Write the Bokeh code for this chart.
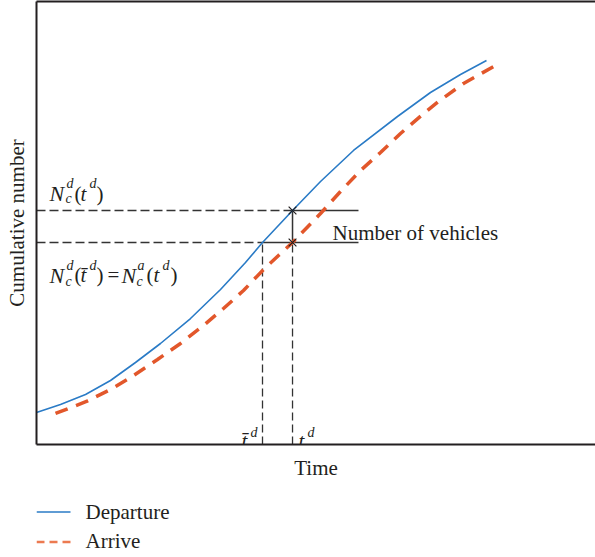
from bokeh.plotting import figure
from bokeh.layouts import column
from bokeh.models import Range1d, LinearAxis, FixedTicker
from bokeh.core.properties import value
from bokeh.embed import file_html
from bokeh.resources import INLINE

# ---------------- data ----------------
time_departure = [0.0, 4.29, 8.77, 13.24, 17.71, 22.18, 27.55, 32.92, 37.39, 40.43,
                  45.80, 50.81, 56.71, 64.58, 70.48, 75.85, 80.50]
cum_departure = [7.22, 9.03, 11.29, 14.45, 18.51, 22.80, 28.44, 34.99, 41.08, 45.60,
                 52.82, 59.37, 66.37, 74.04, 79.46, 83.52, 86.68]

time_arrive = [3.40, 8.94, 13.24, 16.82, 21.65, 25.76, 29.87, 33.45, 37.03, 40.61,
               43.29, 45.80, 50.81, 54.38, 57.96, 61.54, 65.12, 69.05, 71.91, 76.39, 82.11]
cum_arrive = [7.00, 9.71, 12.42, 15.12, 19.19, 22.80, 26.86, 30.70, 34.76, 39.50,
              42.66, 45.60, 52.14, 57.11, 61.85, 65.91, 70.20, 74.49, 77.43, 81.49, 85.55]

t_bar = 40.43          # \bar t^d
t_d = 45.80            # t^d
n_depart_td = 52.82    # N_c^d(t^d)
n_arrive_td = 45.60    # N_c^d(\bar t^d) = N_c^a(t^d)
measure_end = 57.6     # right end of the "number of vehicles" bracket

series_labels = ["Departure", "Arrive"]
x_label = "Time"
y_label = "Cumulative number"
bracket_label = "Number of vehicles"

# ---------------- styles ----------------
INK = "#231f20"
BLUE = "#2a7bc6"
ORANGE = "#e2572b"
ORANGE_LEG = "#ec7a50"
FONT = "Liberation Serif"

p = figure(width=595, height=490, x_range=Range1d(0, 100), y_range=Range1d(0, 100),
           output_backend="svg", toolbar_location=None,
           x_axis_label=x_label, y_axis_label=y_label,
           min_border_left=36, min_border_right=0, min_border_top=1, min_border_bottom=46)
p.outline_line_color = None
p.grid.visible = False
p.background_fill_color = "white"
p.border_fill_color = "white"

top_axis = LinearAxis()
p.add_layout(top_axis, "above")

for ax in p.axis:
    ax.ticker = FixedTicker(ticks=[])
    ax.axis_line_color = INK
    ax.axis_line_width = 2
    ax.major_tick_out = 0
    ax.minor_tick_out = 0
    ax.major_tick_line_color = None
    ax.minor_tick_line_color = None
    ax.major_label_standoff = 0
    ax.axis_label_text_font = FONT
    ax.axis_label_text_font_size = "21px"
    ax.axis_label_text_font_style = "normal"
    ax.axis_label_text_color = INK

p.below[0].axis_label_standoff = 11
p.left[0].axis_label_standoff = 8

# ---------------- guide lines ----------------
guide = dict(line_color="#333333", line_width=1.3)
p.line([0, t_d], [n_depart_td, n_depart_td], line_dash="9 4", **guide)
p.line([0, t_bar], [n_arrive_td, n_arrive_td], line_dash="9 4", **guide)
p.line([t_bar, t_bar], [0, n_arrive_td], line_dash="8 4", **guide)
p.line([t_d, t_d], [0, n_arrive_td], line_dash="8 4", **guide)
p.line([t_d, measure_end], [n_depart_td, n_depart_td], line_color="#333333", line_width=1.5)
p.line([t_bar, measure_end], [n_arrive_td, n_arrive_td], line_color="#333333", line_width=1.5)
p.line([t_d, t_d], [n_arrive_td, n_depart_td], line_color="#333333", line_width=1.5)

# ---------------- curves ----------------
p.line(time_departure, cum_departure, line_color=BLUE, line_width=1.6)
p.line(time_arrive, cum_arrive, line_color=ORANGE, line_width=3.5, line_dash="13 9")

p.scatter([t_d, t_d], [n_depart_td, n_arrive_td], marker="x", size=11,
          line_color=INK, line_width=1.2)

# ---------------- text ----------------
def math_text(fig, x, y, pieces, baseline="alphabetic"):
    for dx, dy, txt, size, style in pieces:
        fig.text(x=[x], y=[y], text=[txt], x_offset=dx, y_offset=dy,
                 text_font=value(FONT), text_font_size=f"{size}px",
                 text_font_style=style, text_color=INK,
                 text_baseline=baseline, text_align="left")

math_text(p, 0, n_depart_td, [
    (13, -17, "N", 22, "italic"), (30, -27, "d", 14, "italic"), (29, -12, "c", 14, "italic"),
    (38, -17, "(", 21, "normal"), (44, -17, "t", 21, "italic"), (53, -27, "d", 14, "italic"),
    (60, -17, ")", 21, "normal"),
])
math_text(p, 0, n_arrive_td, [
    (13, 33, "N", 22, "italic"), (30, 23, "d", 14, "italic"), (29, 39, "c", 14, "italic"),
    (38, 33, "(", 21, "normal"), (44, 33, "t\u0304", 21, "italic"), (53, 23, "d", 14, "italic"),
    (60, 33, ")", 21, "normal"), (71, 33, "=", 21, "normal"),
    (85, 33, "N", 22, "italic"), (101, 23, "a", 14, "italic"), (100, 39, "c", 14, "italic"),
    (110, 33, "(", 21, "normal"), (117, 33, "t", 21, "italic"), (126, 23, "d", 14, "italic"),
    (134, 33, ")", 21, "normal"),
])
math_text(p, t_bar, 0, [(-21, -4, "t\u0304", 21, "italic"), (-12, -12, "d", 14, "italic")])
math_text(p, t_d, 0, [(6, -4, "t", 21, "italic"), (15, -12, "d", 14, "italic")])
math_text(p, t_d, n_arrive_td, [(40, -9, bracket_label, 21, "normal")])

# ---------------- legend (separate strip below the chart, pixel space) ----------------
# the column aligns this strip's frame with the chart frame (page x 36..595)
p_leg = figure(width=595, height=67, x_range=Range1d(36, 595), y_range=Range1d(67, 0),
               output_backend="svg", toolbar_location=None,
               x_axis_location=None, y_axis_location=None,
               min_border=0, min_border_left=0, min_border_right=0,
               min_border_top=0, min_border_bottom=0)
p_leg.outline_line_color = None
p_leg.grid.visible = False
p_leg.line([36, 70], [21.5, 21.5], line_color=BLUE, line_width=1.6)
p_leg.line([36, 70], [51.5, 51.5], line_color=ORANGE_LEG, line_width=2.5, line_dash="8 5")
math_text(p_leg, 85, 21.5, [(0, 0, series_labels[0], 21, "normal")], baseline="middle")
math_text(p_leg, 85, 50.5, [(0, 0, series_labels[1], 21, "normal")], baseline="middle")

layout = column(p, p_leg, spacing=0)
open("out.html", "w").write(file_html(layout, INLINE))
